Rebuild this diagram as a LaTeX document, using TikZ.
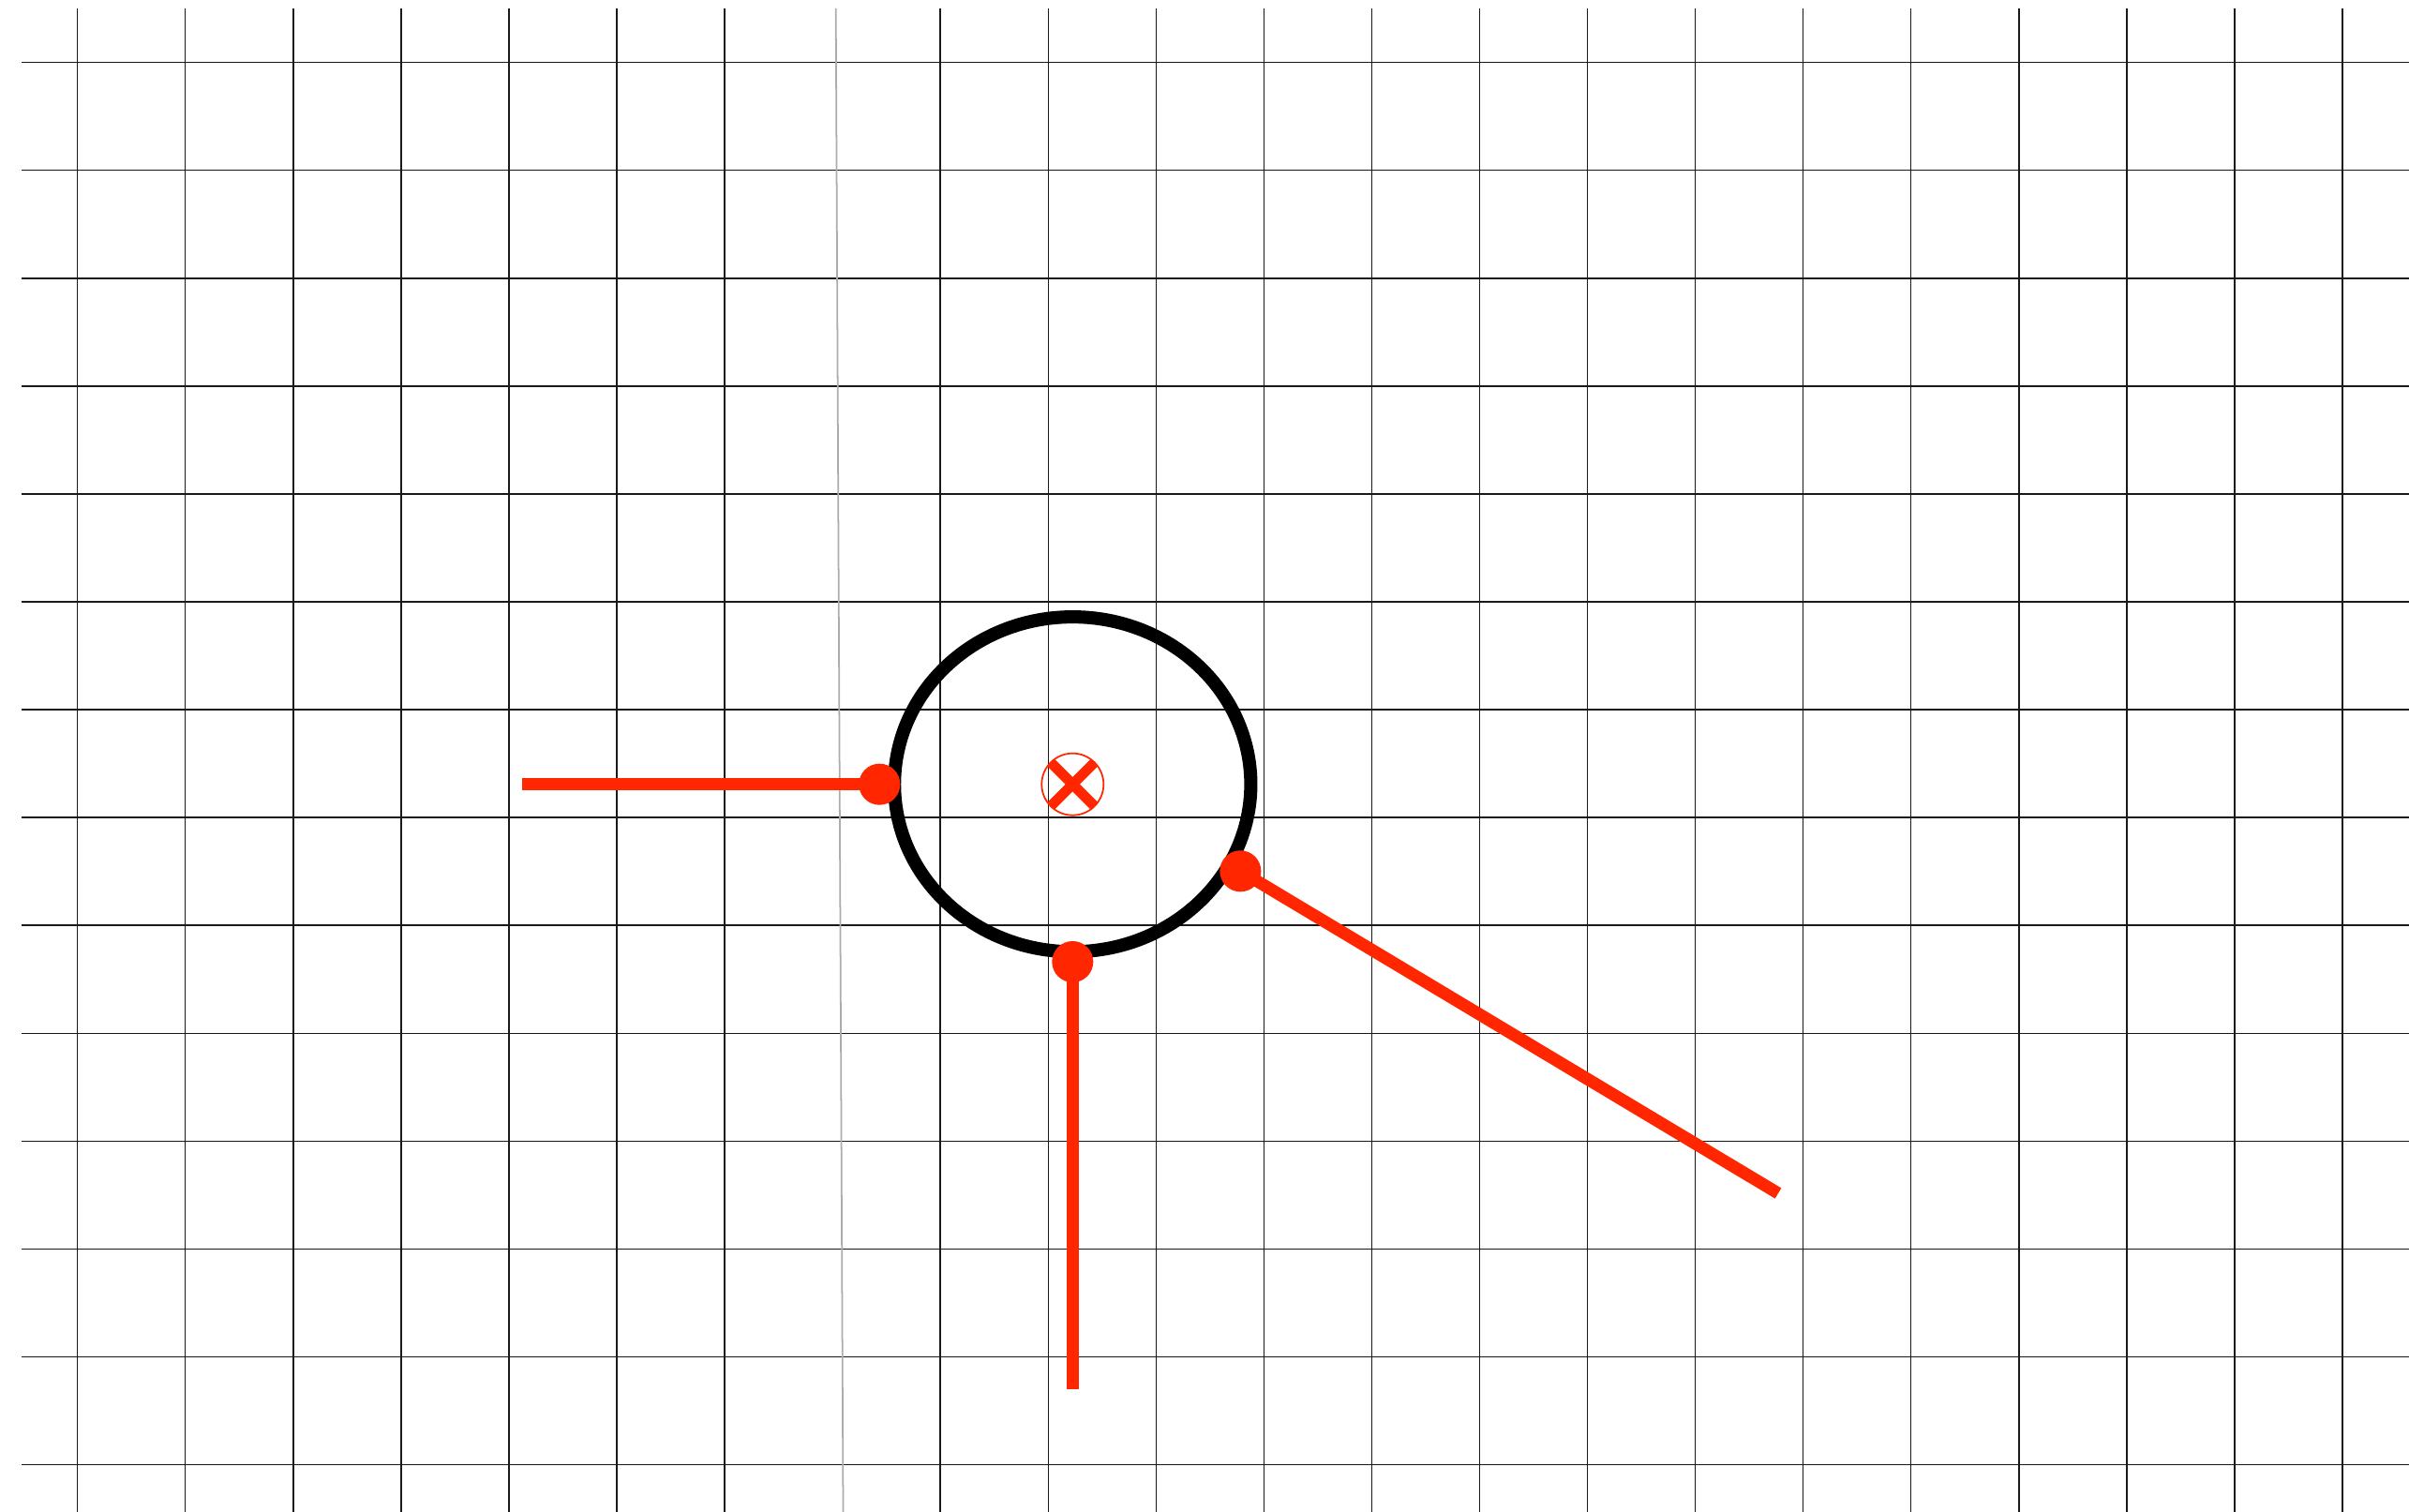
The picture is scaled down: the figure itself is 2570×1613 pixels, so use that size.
\documentclass[tikz,border=0pt]{standalone}
\usepackage{xcolor}
\usepackage{tikz}
\usetikzlibrary{shapes.geometric}

\definecolor{markred}{HTML}{FF2600}

\begin{document}
\begin{tikzpicture}[
  x=0.01cm, y=-0.01cm,
  gridline/.style={draw=black!90, line width=0.4pt},
  ring/.style={ellipse, draw=black, line width=4pt, minimum width=3.8cm,
               minimum height=3.57cm, inner sep=0pt},
  pin/.style={circle, fill=markred, minimum size=0.44cm, inner sep=0pt},
  lead/.style={draw=markred, line width=3.7pt},
  hub/.style={circle, draw=markred, line width=0.5pt, minimum size=0.66cm, inner sep=0pt,
              path picture={\draw[markred, line width=3.1pt]
                (path picture bounding box.north west) -- (path picture bounding box.south east)
                (path picture bounding box.north east) -- (path picture bounding box.south west);}}]
  \useasboundingbox (0,0) rectangle (2570,1613);
  % grid
  \foreach \k in {0,...,13}
    \draw[gridline] (23,{66.7+115.06*\k}) -- (2570,{66.7+115.06*\k});
  \foreach \k in {0,1,2,3,4,5,6,8,9,...,21}
    \draw[gridline] ({82.7+115.06*\k},9) -- ({82.7+115.06*\k},1613);
  \draw[gray!65, line width=0.5pt] (891.7,9) -- (899.5,1613);
  % ring and centre
  \node[ring] (ring) at (1144.3,836.7) {};
  \node[hub] (hub) at (1144.3,836.7) {};
  % contact points
  \node[pin] (pinW) at (938.3,836.7) {};
  \node[pin] (pinS) at (1144.3,1026) {};
  \node[pin] (pinE) at (1323.3,929.3) {};
  \coordinate (leadW) at (557.3,836.7);
  \coordinate (leadS) at (1144.3,1482.3);
  \coordinate (leadE) at (1897,1273);
  \foreach \a/\b in {pinW/leadW, pinS/leadS, pinE/leadE}
    \draw[lead] (\a.center) -- (\b);
\end{tikzpicture}
\end{document}
